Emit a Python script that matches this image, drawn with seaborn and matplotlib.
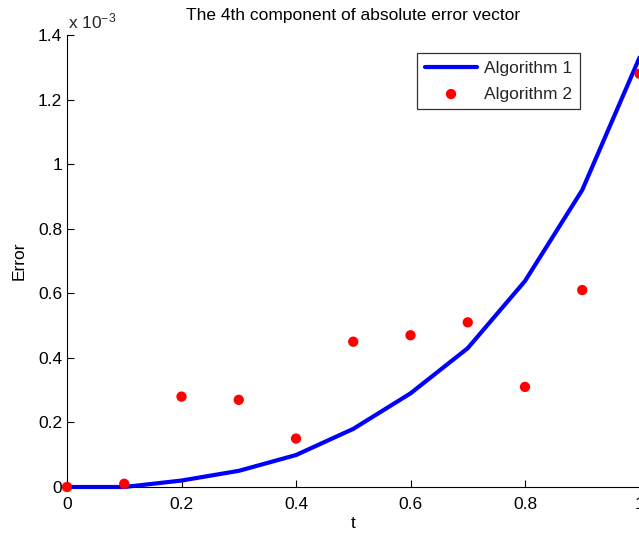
import matplotlib
matplotlib.use("Agg")
import matplotlib.pyplot as plt
import seaborn as sns
import pandas as pd
from matplotlib.ticker import FuncFormatter

t = [0.0, 0.1, 0.2, 0.3, 0.4, 0.5, 0.6, 0.7, 0.8, 0.9, 1.0]
alg1 = [0.0, 0.0, 0.02, 0.05, 0.099, 0.18, 0.29, 0.43, 0.638, 0.92, 1.33]   # x 1e-3
alg2 = [0.0, 0.01, 0.28, 0.27, 0.15, 0.45, 0.47, 0.51, 0.31, 0.61, 1.28]    # x 1e-3
xticks = [0, 0.2, 0.4, 0.6, 0.8, 1]
yticks = [0, 0.2, 0.4, 0.6, 0.8, 1, 1.2, 1.4]

sns.set_theme(style="white")
plt.rcParams['font.family'] = ['Liberation Sans', 'DejaVu Sans']
plt.rcParams['mathtext.fontset'] = 'custom'
plt.rcParams['mathtext.rm'] = 'Liberation Sans'
plt.rcParams['mathtext.it'] = 'Liberation Sans'
FS = 12.5

df1 = pd.DataFrame({"t": t, "err": alg1})
df2 = pd.DataFrame({"t": t, "err": alg2})

fig = plt.figure(figsize=(6.39, 5.33), dpi=100)
ax = fig.add_axes([67/639, 46/533, 572.5/639, 452/533])

sns.lineplot(data=df1, x="t", y="err", ax=ax, color="#0000ff", linewidth=3, label="Algorithm 1", clip_on=False)
sns.scatterplot(data=df2, x="t", y="err", ax=ax, color="#ff0000", s=55, edgecolor="none", label="Algorithm 2", clip_on=False, zorder=3)

ax.set_xlim(0, 1)
ax.set_ylim(0, 1.4)
ax.set_xticks(xticks)
ax.set_yticks(yticks)
fmt = FuncFormatter(lambda v, p: "%g" % round(v, 6))
ax.xaxis.set_major_formatter(fmt)
ax.yaxis.set_major_formatter(fmt)
ax.tick_params(direction="in", length=5, width=0.8, color="black", labelsize=FS,
               bottom=True, left=True, top=False, right=False, labelcolor="black")
ax.tick_params(axis="x", pad=7)
ax.tick_params(axis="y", pad=3.5)
for s in ["top", "right"]:
    ax.spines[s].set_visible(False)
for s in ["left", "bottom"]:
    ax.spines[s].set_color("black")
    ax.spines[s].set_linewidth(0.8)

ax.set_xlabel("t", fontsize=FS, color="black", labelpad=3)
ax.set_ylabel("Error", fontsize=FS, color="black", labelpad=8)
ax.set_title("The 4th component of absolute error vector", fontsize=FS, color="black", pad=11)
ax.text(0.002, 1.0155, r"x 10$^{-3}$", transform=ax.transAxes, fontsize=FS, ha="left", va="baseline")

leg = ax.legend(loc="upper right", bbox_to_anchor=(0.896, 0.960), borderaxespad=0,
                fontsize=FS, frameon=True, fancybox=False, edgecolor="black",
                handlelength=3.0, handletextpad=0.4, borderpad=0.45, labelspacing=0.6)
leg.get_frame().set_linewidth(0.9)

fig.savefig("out.png", dpi=100)
